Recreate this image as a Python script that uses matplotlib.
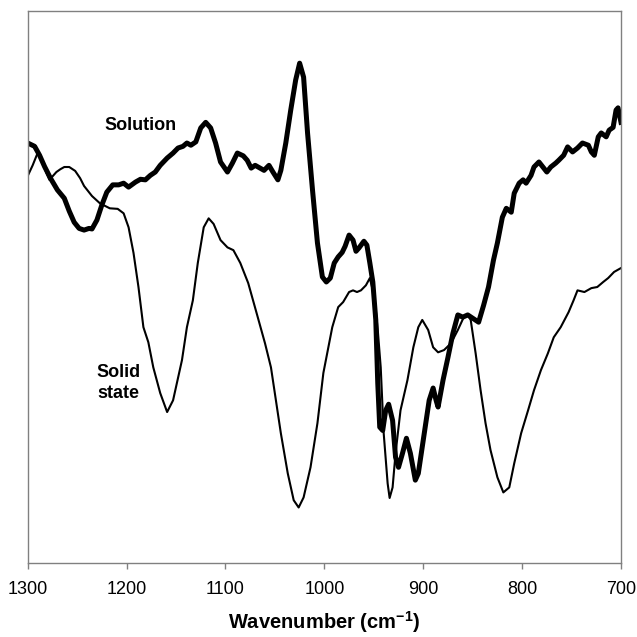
import matplotlib
matplotlib.use("Agg")
import matplotlib.pyplot as plt

plt.rcParams['font.family'] = ['Liberation Sans', 'DejaVu Sans']
plt.rcParams['mathtext.fontset'] = 'custom'
plt.rcParams['mathtext.rm'] = 'Liberation Sans'
plt.rcParams['mathtext.bf'] = 'Liberation Sans:bold'

# solution spectrum (thick line), wavenumber in cm-1 / transmittance (a.u.)
sol_wn = [1300, 1293, 1288, 1283, 1277, 1270, 1263, 1258, 1253, 1248, 1243, 1238, 1235,
          1230, 1225, 1220, 1214, 1208, 1203, 1198, 1191, 1186, 1181, 1176, 1171, 1166,
          1159, 1153, 1148, 1143, 1139, 1135, 1130, 1125, 1120, 1115, 1110, 1105, 1098,
          1093, 1088, 1082, 1078, 1074, 1070, 1065, 1061, 1056, 1052, 1047, 1044, 1039,
          1034, 1029, 1025, 1021, 1017, 1012, 1007, 1002, 998, 994, 990, 986, 982, 979,
          975, 971, 968, 965, 960, 957, 954, 951, 948, 946, 944, 941, 938, 935, 931, 928,
          925, 921, 917, 913, 908, 905, 900, 894, 890, 887, 885, 880, 875, 870, 865, 860,
          855, 850, 844, 839, 834, 829, 825, 820, 816, 811, 808, 803, 799, 796, 791, 788,
          783, 779, 775, 771, 766, 763, 758, 754, 749, 744, 739, 733, 730, 727, 723, 720,
          715, 712, 708, 705, 703, 700]
sol_t = [76.9, 76.3, 74.7, 72.7, 70.6, 68.5, 67.0, 64.7, 62.7, 61.6, 61.3, 61.6, 61.5,
         63.1, 65.8, 68.1, 69.4, 69.4, 69.7, 69.0, 69.9, 70.4, 70.3, 71.1, 71.7, 72.9,
         74.2, 75.1, 76.0, 76.3, 76.9, 76.5, 77.1, 79.6, 80.6, 79.6, 76.9, 73.5, 71.7,
         73.3, 75.1, 74.6, 73.8, 72.4, 72.9, 72.4, 72.0, 72.9, 71.7, 70.3, 72.0, 76.9,
         82.8, 88.2, 91.2, 88.7, 78.7, 68.5, 59.0, 52.9, 52.0, 52.7, 55.4, 56.5, 57.3, 58.4,
         60.4, 59.5, 57.5, 58.1, 59.3, 58.6, 55.4, 52.0, 45.2, 33.9, 26.0, 25.4, 29.0, 30.1,
         27.2, 20.6, 18.8, 21.3, 24.0, 21.3, 16.5, 17.7, 23.7, 30.8, 33.0, 30.8, 29.6, 34.4,
         38.5, 42.8, 46.1, 45.7, 46.1, 45.5, 44.8, 47.8, 51.1, 55.9, 59.0, 63.6, 65.2, 64.5,
         67.9, 69.7, 70.3, 69.7, 71.1, 72.6, 73.5, 72.6, 71.7, 72.6, 73.3, 73.8, 74.7, 76.2,
         75.3, 76.0, 76.9, 76.5, 75.3, 74.7, 78.0, 78.7, 78.0, 79.2, 79.7, 82.8, 83.2, 80.6]

# solid state spectrum (thin line)
solid_wn = [1300, 1295, 1290, 1285, 1281, 1278, 1274, 1271, 1267, 1263, 1258, 1252, 1247,
            1243, 1235, 1227, 1217, 1209, 1203, 1198, 1193, 1188, 1183, 1178, 1173, 1166,
            1159, 1153, 1144, 1139, 1133, 1128, 1122, 1117, 1112, 1105, 1098, 1092, 1085,
            1077, 1068, 1060, 1054, 1049, 1044, 1037, 1031, 1026, 1021, 1014, 1007, 1001,
            992, 986, 981, 975, 971, 967, 963, 958, 954, 951, 948, 946, 943, 940, 936, 934,
            931, 928, 923, 916, 910, 905, 901, 895, 890, 885, 879, 872, 865, 859, 855, 852,
            847, 842, 837, 832, 825, 819, 813, 808, 801, 794, 788, 781, 774, 768, 761, 753,
            748, 744, 737, 730, 724, 718, 713, 707, 700]
solid_t = [71.0, 72.9, 75.1, 73.3, 71.5, 70.3, 71.1, 71.7, 72.2, 72.6, 72.6, 71.9, 70.6,
           69.2, 67.4, 66.1, 65.2, 65.1, 64.3, 61.8, 57.2, 51.1, 43.9, 41.2, 36.7, 32.1,
           28.7, 30.8, 38.0, 43.9, 48.7, 55.4, 61.8, 63.4, 62.4, 59.5, 58.2, 57.7, 55.4,
           51.8, 46.1, 41.0, 36.7, 30.8, 24.9, 17.7, 12.9, 11.6, 13.4, 18.8, 26.7, 35.7,
           43.9, 47.5, 48.4, 50.2, 50.5, 50.2, 50.5, 51.4, 52.7, 50.5, 47.0, 43.4, 36.7, 24.9,
           15.9, 13.3, 15.2, 21.3, 29.0, 34.4, 40.3, 43.9, 45.2, 43.4, 40.3, 39.4, 39.8, 41.0,
           43.4, 45.7, 46.1, 45.2, 39.2, 32.6, 26.7, 21.9, 17.0, 14.3, 15.2, 19.5, 24.9, 29.0,
           32.6, 36.2, 39.2, 42.1, 43.9, 46.6, 48.7, 50.5, 50.2, 50.9, 51.1, 52.0, 52.7, 53.8,
           54.5]

fig = plt.figure(figsize=(6.37, 6.37), dpi=100)
ax = fig.add_axes([0.0435, 0.1157, 0.9314, 0.8666])

ax.plot(solid_wn, solid_t, color='black', lw=1.5)
ax.plot(sol_wn, sol_t, color='black', lw=3.6, solid_joinstyle='round')

ax.set_xlim(1300, 700)
ax.set_ylim(1.6, 100.5)
ax.set_xticks([1300, 1200, 1100, 1000, 900, 800, 700])
ax.set_yticks([])
ax.tick_params(axis='x', direction='out', length=4, width=1, color='#808080',
               labelsize=13, pad=9)
for s in ax.spines.values():
    s.set_color('#808080')
    s.set_linewidth(1.0)

ax.text(1186, 80.1, 'Solution', fontsize=13, fontweight='bold', ha='center', va='center')
ax.text(1230, 33.9, 'Solid\nstate', fontsize=13, fontweight='bold', ha='left',
        va='center', linespacing=1.25)

ax.set_xlabel(r'Wavenumber (cm$^{\mathbf{-1}}$)', fontsize=14.5, fontweight='bold',
              labelpad=8)

fig.savefig('out.png', dpi=100)
